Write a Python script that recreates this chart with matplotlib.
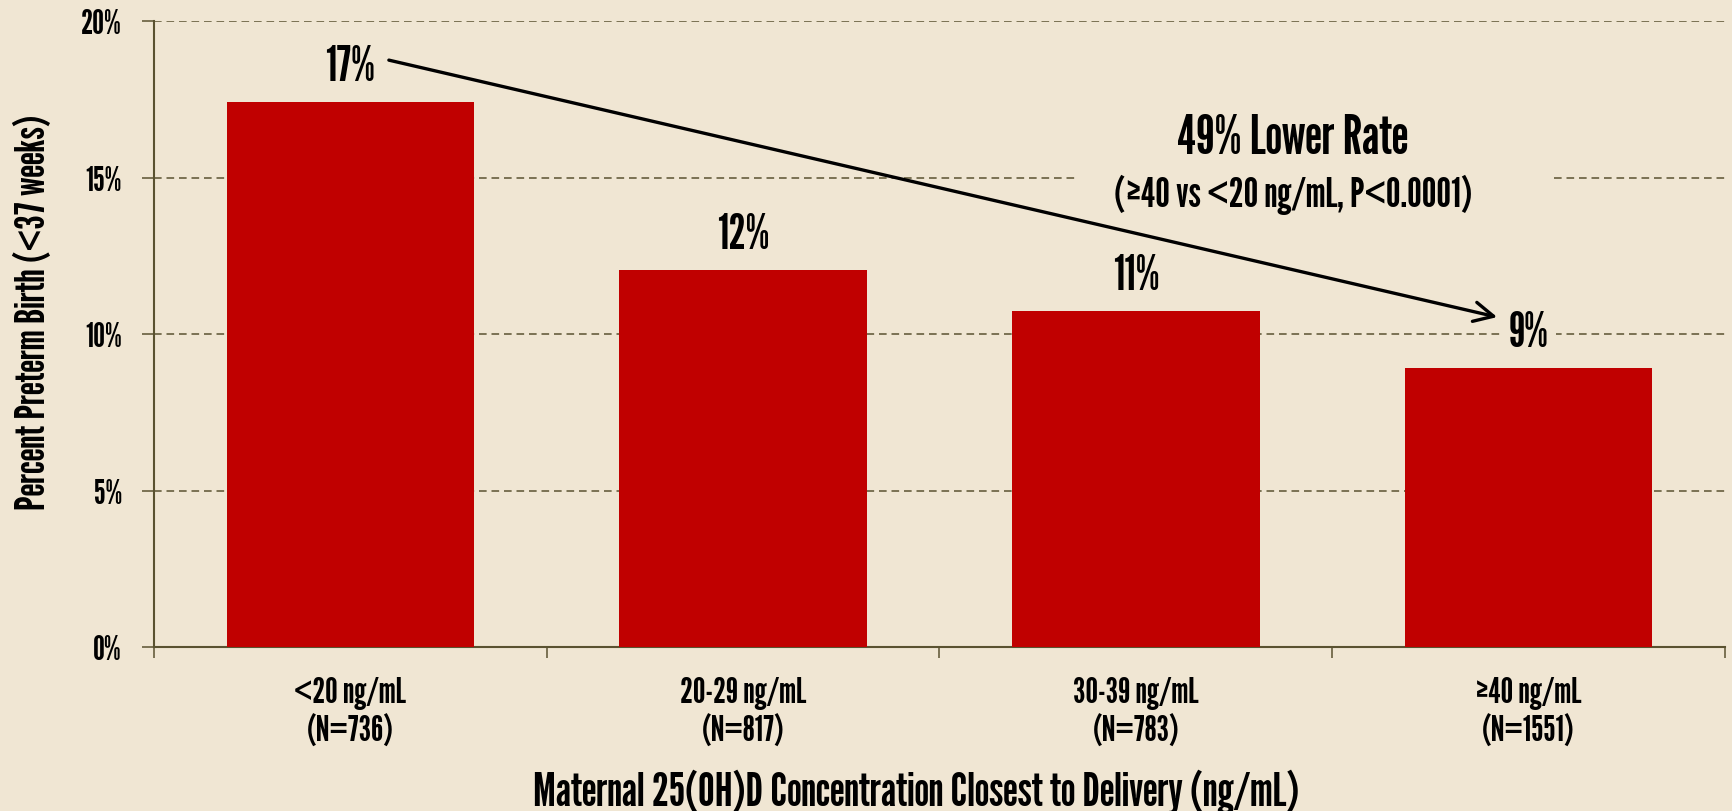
import matplotlib
matplotlib.use("Agg")
import matplotlib.pyplot as plt
from matplotlib.patches import Rectangle
from matplotlib.ticker import FixedLocator, FuncFormatter, NullFormatter
from matplotlib.transforms import blended_transform_factory, offset_copy

# ---- data ----
categories = ["<20 ng/mL", "20-29 ng/mL", "30-39 ng/mL", "\u226540 ng/mL"]
sample_sizes = ["(N=736)", "(N=817)", "(N=783)", "(N=1551)"]
preterm_pct = [17.4, 12.05, 10.75, 8.9]
value_labels = ["17%", "12%", "11%", "9%"]
y_ticks = [0, 5, 10, 15, 20]
title_text = "49% Lower Rate"
subtitle_text = "(\u226540 vs <20 ng/mL, P<0.0001)"
x_label = "Maternal 25(OH)D Concentration Closest to Delivery (ng/mL)"
y_label = "Percent Preterm Birth (<37 weeks)"

BG = "#F0E6D3"
RED = "#C00000"
AXC = "#5A5230"
FONT = ["League Gothic", "Oswald", "DejaVu Sans"]

plt.rcParams["lines.scale_dashes"] = False
plt.rcParams["font.family"] = FONT

W, H = 1733, 812
DPI = 100
fig = plt.figure(figsize=(W / DPI, H / DPI), dpi=DPI, facecolor=BG)
renderer = fig.canvas.get_renderer()


def fit(s, target_px, ref=20.0):
    t = fig.text(0, 0, s, fontsize=ref)
    w = t.get_window_extent(renderer=renderer).width
    t.remove()
    return ref * target_px / w


def px2pt(p):
    return p * 72.0 / DPI


fs_ytick = fit("20%", 41)
fs_xtick = fit(categories[0], 112)
fs_value = fit(value_labels[0], 50)
fs_title = fit(title_text, 231)
fs_sub = fit(subtitle_text, 357)
fs_xlabel = fit(x_label, 767)
fs_ylabel = fit(y_label, 395)

L, R, T, B = 154, 1725, 22, 648
ax = fig.add_axes([L / W, 1 - B / H, (R - L) / W, (B - T) / H])
ax.set_facecolor(BG)

x = list(range(len(categories)))
ax.bar(x, preterm_pct, width=0.63, color=RED, edgecolor="none", zorder=3)

ax.set_xlim(-0.5, len(categories) - 0.5)
ax.set_ylim(0, 20)

# dashed grid
for yv in y_ticks[1:]:
    ax.axhline(yv, color=AXC, lw=1.1, dashes=(5.5, 3.5), zorder=1)

# y axis
ax.yaxis.set_major_locator(FixedLocator(y_ticks))
ax.yaxis.set_major_formatter(FuncFormatter(lambda v, p: f"{v:.0f}%"))
ax.tick_params(axis="y", direction="out", length=px2pt(12), width=1.1, color=AXC,
               pad=px2pt(20), labelsize=fs_ytick)

# x axis: ticks at category boundaries, two-line labels at centres
ax.xaxis.set_major_locator(FixedLocator([i - 0.5 for i in range(len(categories) + 1)]))
ax.xaxis.set_major_formatter(NullFormatter())
ax.tick_params(axis="x", direction="out", length=px2pt(11), width=1.1, color=AXC)
xt = blended_transform_factory(ax.transData, fig.transFigure)
for xi, c, n in zip(x, categories, sample_sizes):
    ax.text(xi, 1 - 703 / H, c, transform=xt, ha="center", va="baseline", fontsize=fs_xtick)
    ax.text(xi, 1 - 742 / H, n, transform=xt, ha="center", va="baseline", fontsize=fs_xtick)

for s in ["top", "right"]:
    ax.spines[s].set_visible(False)
for s in ["left", "bottom"]:
    ax.spines[s].set_color(AXC)
    ax.spines[s].set_linewidth(1.5)

# axis titles
fig.text(916 / W, 1 - 806 / H, x_label, ha="center", va="baseline", fontsize=fs_xlabel)
fig.text(45 / W, 1 - 312 / H, y_label, ha="center", va="baseline", rotation=90,
         rotation_mode="anchor", fontsize=fs_ylabel)

# value labels above bars
for xi, v, lab in zip(x, preterm_pct, value_labels):
    ax.annotate(lab, (xi, v), xytext=(0, px2pt(22)), textcoords="offset points",
                ha="center", va="baseline", fontsize=fs_value, zorder=5,
                bbox=dict(boxstyle="square,pad=0.15", fc=BG, ec="none"))

# background patch behind the headline to interrupt the 15% grid line
ax.add_patch(Rectangle((1.85, 14.5), 1.21, 1.0, facecolor=BG, edgecolor="none", zorder=2))
fig.text(1293 / W, 1 - 154 / H, title_text, ha="center", va="baseline", fontsize=fs_title, zorder=5)
fig.text(1293 / W, 1 - 207 / H, subtitle_text, ha="center", va="baseline", fontsize=fs_sub, zorder=5)

# arrow from first to last bar label
ax.annotate("", xy=(x[-1] - 0.08, preterm_pct[-1] + 1.64),
            xytext=(x[0] + 0.098, preterm_pct[0] + 1.35),
            arrowprops=dict(arrowstyle="->,head_length=0.7,head_width=0.35", lw=2.4,
                            color="black", mutation_scale=20, shrinkA=0, shrinkB=0),
            zorder=6)

fig.savefig("out.png", dpi=DPI, facecolor=BG)
